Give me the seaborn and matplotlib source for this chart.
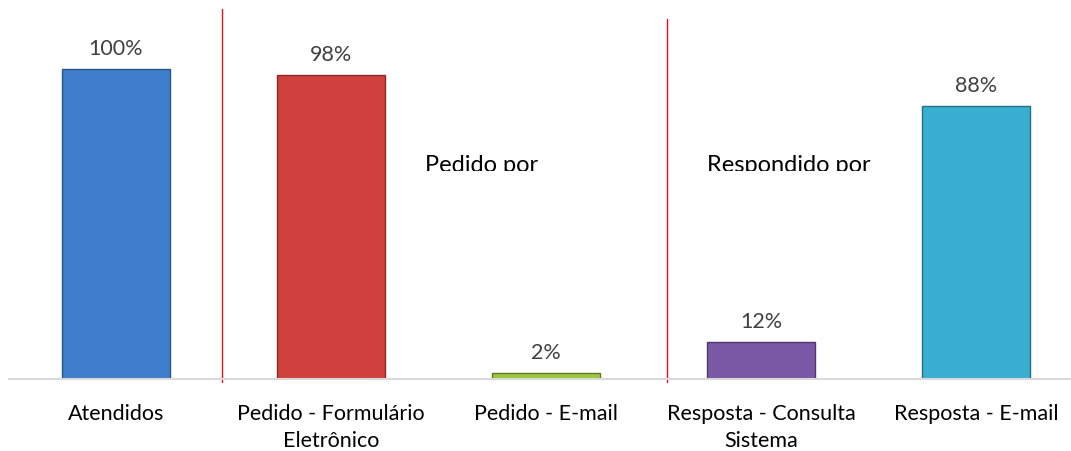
import matplotlib
matplotlib.use("Agg")
import matplotlib.pyplot as plt
from matplotlib.transforms import Bbox
import seaborn as sns
import pandas as pd

categories = ["Atendidos", "Pedido - Formulário\nEletrônico", "Pedido - E-mail",
              "Resposta - Consulta\nSistema", "Resposta - E-mail"]
values = [100, 98, 2, 12, 88]
labels = ["100%", "98%", "2%", "12%", "88%"]
colors = ["#3E7ECB", "#D0403D", "#9DC83E", "#7A58A6", "#38AED0"]
edges = ["#2A548A", "#8A2A28", "#5F7A24", "#4E386C", "#236F85"]

sns.set_theme(style="white")
plt.rcParams["font.family"] = ["Lato", "DejaVu Sans"]

W, H = 1071, 452
fig = plt.figure(figsize=(W / 100, H / 100), dpi=100)
left_px, right_px, top_px, base_px = 8.5, 1071, 0, 380
ax = fig.add_axes([left_px / W, 1 - base_px / H, (right_px - left_px) / W, (base_px - top_px) / H])

df = pd.DataFrame({"cat": categories, "val": values})
sns.barplot(data=df, x="cat", y="val", hue="cat", palette=colors, legend=False,
            width=0.5, ax=ax, saturation=1)
for patch, ec in zip(ax.patches, edges):
    patch.set_edgecolor(ec)
    patch.set_linewidth(1.0)

ymax = 100 * (base_px - top_px) / (base_px - 70)
ax.set_ylim(0, ymax)
ax.set_xlim(-0.5, 4.5 - (1083.5 - 1071) / 215)

for i, (v, lab) in enumerate(zip(values, labels)):
    ax.annotate(lab, (i, v), xytext=(0, 8), textcoords="offset points",
                ha="center", va="bottom", fontsize=15.5, color="#404040")

px2y = lambda y: ymax * (base_px - y) / (base_px - top_px)
ax.plot([(222 - 116) / 215] * 2, [px2y(10), px2y(383)], color="#E8101A", lw=1, clip_on=False)
ax.plot([(667 - 116) / 215] * 2, [px2y(20), px2y(383)], color="#E8101A", lw=1, clip_on=False)

clip = Bbox([[0, H - 172], [W, H]])
for xc, txt in [(482, "Pedido por"), (789, "Respondido por")]:
    t = ax.text((xc - 116) / 215, px2y(172), txt, ha="center", va="baseline",
                fontsize=17, color="black")
    t.set_clip_on(True)
    t.set_clip_box(clip)

for s in ["top", "right", "left"]:
    ax.spines[s].set_visible(False)
ax.spines["bottom"].set_color("#D9D9D9")
ax.spines["bottom"].set_linewidth(1.5)
ax.set_yticks([])
ax.set_xlabel("")
ax.set_ylabel("")
ax.tick_params(axis="x", length=0, pad=17, labelsize=15.5, labelcolor="black")
for t in ax.get_xticklabels():
    t.set_linespacing(1.45)

fig.savefig("out.png", dpi=100)
